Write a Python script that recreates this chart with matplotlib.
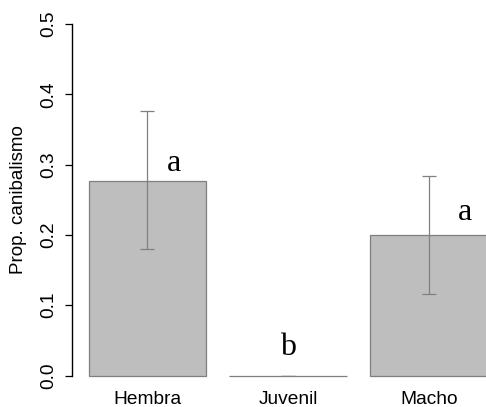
import numpy as np
import matplotlib
matplotlib.use("Agg")
import matplotlib.pyplot as plt

# =========================
# Data
# =========================
groups = ["Hembra", "Juvenil", "Macho"]
prop_mean = [0.277, 0.0, 0.200]
ci_low = [0.1795, 0.0, 0.1155]
ci_high = [0.3758, 0.0, 0.2842]
letters = ["a", "b", "a"]

# letter placement relative to each bar (x shift, y shift above the mean)
letter_dx = [0.19, 0.0, 0.256]
letter_dy = [0.014, 0.029, 0.021]

# =========================
# Figure
# =========================
plt.rcParams["font.family"] = ["Liberation Sans", "DejaVu Sans"]

fig = plt.figure(figsize=(4.86, 4.07), dpi=100)
ax = fig.add_axes([72 / 486, 31.5 / 407, 414 / 486, 351.5 / 407])

x = np.arange(len(groups))
mean = np.array(prop_mean)
yerr = [mean - np.array(ci_low), np.array(ci_high) - mean]

ax.bar(x, mean, width=0.833, color="#bebebe", edgecolor="#7f7f7f",
       linewidth=0.9, clip_on=False, zorder=1)
ax.errorbar(x, mean, yerr=yerr, fmt="none", ecolor="#808080",
            elinewidth=0.9, capsize=5, capthick=0.9, zorder=2)

for xi, m, lab, dx, dy in zip(x, mean, letters, letter_dx, letter_dy):
    ax.text(xi + dx, m + dy, lab, family="Liberation Serif", fontsize=23,
            ha="center", va="baseline")

ax.set_xlim(-0.5346, 2.4047)
ax.set_ylim(0, 0.5)

# R-style axes: only a left axis line spanning the ticks
for side in ["top", "right", "bottom"]:
    ax.spines[side].set_visible(False)
ax.spines["left"].set_linewidth(1.0)
ax.spines["left"].set_bounds(0, 0.5)

ax.set_yticks([0.0, 0.1, 0.2, 0.3, 0.4, 0.5])
ax.set_yticklabels(["0.0", "0.1", "0.2", "0.3", "0.4", "0.5"])
ax.tick_params(axis="y", direction="out", length=5, width=0.9,
               labelsize=13.8, pad=5.5)
for lbl in ax.get_yticklabels():
    lbl.set_rotation(90)
    lbl.set_va("center")

ax.set_xticks(x)
ax.set_xticklabels(groups)
ax.tick_params(axis="x", length=0, labelsize=13.8, pad=11)

ax.set_ylabel("Prop. canibalismo", fontsize=13.5)
ax.yaxis.set_label_coords(-0.1075, 0.5)

fig.savefig("out.png", dpi=100)
